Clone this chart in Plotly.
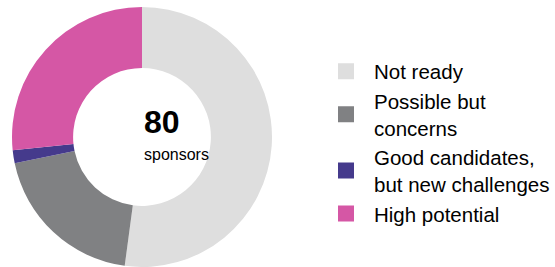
import plotly.graph_objects as go

categories = ["Not ready", "Possible but<br>concerns", "Good candidates,<br>but new challenges", "High potential"]
values = [41.7, 15.7, 1.3, 21.3]
colors = ["#dedede", "#808183", "#453a8c", "#d557a5"]
total_label = "80"
sub_label = "sponsors"

FONT = "Liberation Sans, Arial, sans-serif"

fig = go.Figure()
fig.add_trace(go.Pie(
    labels=categories, values=values, sort=False, direction="clockwise",
    rotation=0, hole=0.53, marker=dict(colors=colors, line=dict(width=0)),
    textinfo="none", hoverinfo="label+value", showlegend=False,
    domain=dict(x=[12/555, 272/555], y=[0, 260/267]),
))
for c, col in zip(categories, colors):
    fig.add_trace(go.Scatter(x=[None], y=[None], mode="markers", name=c,
                             marker=dict(symbol="square", size=16, color=col)))

fig.add_annotation(x=142/555, y=1-122/267, xref="paper", yref="paper", text=f"<b>{total_label}</b>",
                   showarrow=False, font=dict(family=FONT, size=32, color="#000"))
fig.add_annotation(x=142/555, y=1-154/267, xref="paper", yref="paper", text=sub_label,
                   showarrow=False, font=dict(family=FONT, size=16, color="#000"))

fig.update_layout(
    width=555, height=267, margin=dict(l=0, r=0, t=0, b=0, autoexpand=False),
    paper_bgcolor="white", plot_bgcolor="white",
    xaxis=dict(visible=False, domain=[0.6, 0.61]), yaxis=dict(visible=False),
    legend=dict(x=0.6 - 15/555, y=0.5 - 9/267, xanchor="left", yanchor="middle",
                font=dict(family=FONT, size=20.5, color="#000"), itemwidth=46,
                tracegroupgap=0, itemsizing="trace", bgcolor="rgba(0,0,0,0)"),
    font=dict(family=FONT),
)
fig.write_html("out.html", config={"displayModeBar": False},
               post_script="document.body.style.margin='0';")
